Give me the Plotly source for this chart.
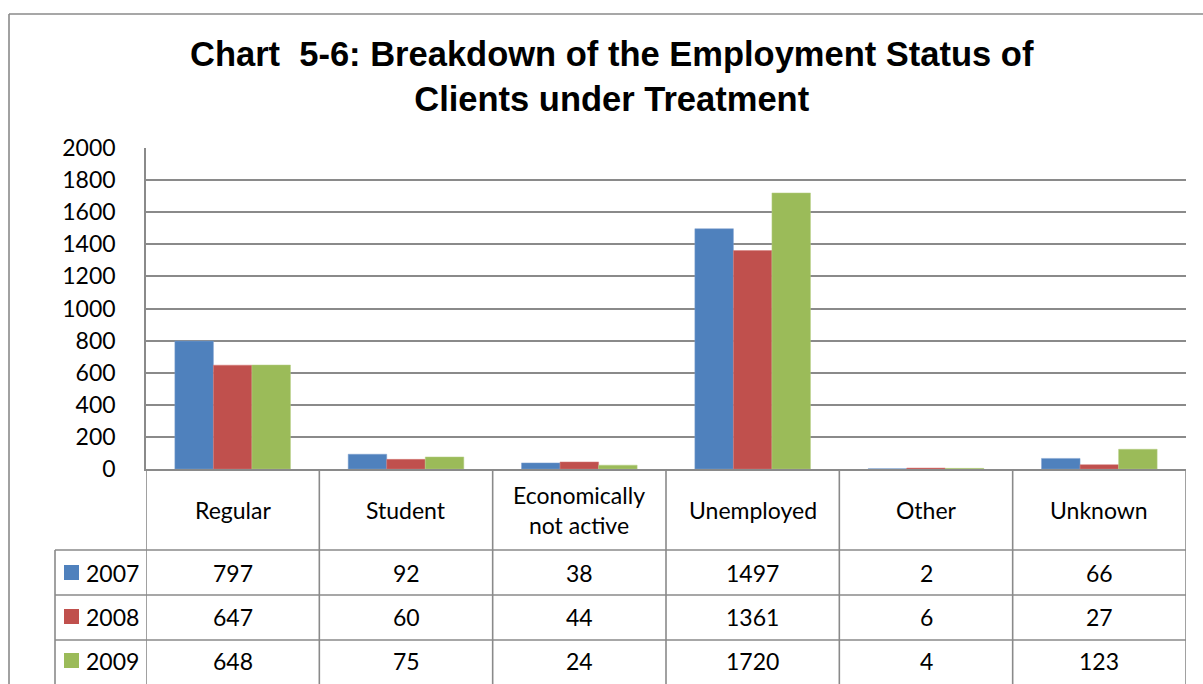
import plotly.graph_objects as go

# Employment status of clients under treatment, by year
categories = ["Regular", "Student", "Economically<br>not active", "Unemployed", "Other", "Unknown"]
years = ["2007", "2008", "2009"]
values_2007 = [797, 92, 38, 1497, 2, 66]
values_2008 = [647, 60, 44, 1361, 6, 27]
values_2009 = [648, 75, 24, 1720, 4, 123]
y_ticks = [0, 200, 400, 600, 800, 1000, 1200, 1400, 1600, 1800, 2000]

series = [values_2007, values_2008, values_2009]
colors = ["#4F81BD", "#C0504D", "#9BBB59"]
edge_colors = ["#7EA1CF", "#D47B79", "#B6CE86"]

W, H = 1203, 684
GRID = "#8A8A8A"
CAL = "Lato, 'Open Sans', sans-serif"


def px(x):
    return x / W


def py(y):
    return 1 - y / H


fig = go.Figure()
idx = list(range(len(categories)))
for yr, vals, c, ec in zip(years, series, colors, edge_colors):
    fig.add_trace(go.Bar(
        x=idx, y=vals, name=yr,
        marker=dict(color=c, line=dict(color=ec, width=0.5)),
        showlegend=False,
    ))

# plot area in pixels
left, right, top, zero = 146, 1186, 148, 469
row_lines = [550, 595, 640]
row_centers = [573, 617, 661]
legend_left = 55

shapes = []
line = dict(color=GRID, width=1.6)

# outer chart frame
shapes.append(dict(type="line", xref="paper", yref="paper",
                   x0=px(9), y0=py(14), x1=1, y1=py(14), line=line))
shapes.append(dict(type="line", xref="paper", yref="paper",
                   x0=px(9), y0=py(14), x1=px(9), y1=0, line=line))

# data table: column separators
for i in range(len(categories) + 1):
    shapes.append(dict(type="line", xref="x", yref="paper",
                       x0=i - 0.5, x1=i - 0.5, y0=py(zero), y1=0, line=line))
# legend column left edge
shapes.append(dict(type="line", xref="paper", yref="paper",
                   x0=px(legend_left), x1=px(legend_left), y0=py(row_lines[0]), y1=0, line=line))
# row separators
for r in row_lines:
    shapes.append(dict(type="line", xref="paper", yref="paper",
                       x0=px(legend_left), x1=px(right), y0=py(r), y1=py(r), line=line))

annotations = []
# category header row
for i, cat in enumerate(categories):
    annotations.append(dict(x=i, y=py((zero + row_lines[0]) / 2), xref="x", yref="paper",
                            text=cat, showarrow=False, xanchor="center", yanchor="middle",
                            font=dict(family=CAL, size=23, color="black")))
# value rows with legend keys
for yr, vals, c, yc in zip(years, series, colors, row_centers):
    for i, v in enumerate(vals):
        annotations.append(dict(x=i, y=py(yc), xref="x", yref="paper",
                                text=str(v), showarrow=False, xanchor="center", yanchor="middle",
                                font=dict(family=CAL, size=23, color="black")))
    shapes.append(dict(type="rect", xref="paper", yref="paper",
                       x0=px(64), x1=px(79), y0=py(yc - 8), y1=py(yc + 7),
                       fillcolor=c, line=dict(width=0)))
    annotations.append(dict(x=px(84), y=py(yc), xref="paper", yref="paper",
                            text=yr, showarrow=False, xanchor="left", yanchor="middle",
                            font=dict(family=CAL, size=23, color="black")))

# title
annotations.append(dict(x=px(612), y=py(77), xref="paper", yref="paper",
                        text="<b>Chart  5-6: Breakdown of the Employment Status of<br>Clients under Treatment</b>",
                        showarrow=False, xanchor="center", yanchor="middle",
                        font=dict(family="Liberation Sans, Arial, sans-serif", size=34.5, color="black")))

fig.update_layout(
    width=W, height=H,
    margin=dict(l=0, r=0, t=0, b=0, pad=0, autoexpand=False),
    paper_bgcolor="white", plot_bgcolor="white",
    barmode="group", bargap=0.333, bargroupgap=0,
    shapes=shapes, annotations=annotations,
    xaxis=dict(domain=[px(left), px(right)], range=[-0.5, len(categories) - 0.5],
               showticklabels=False, showgrid=False, zeroline=False, automargin=False,
               showline=True, linecolor=GRID, linewidth=1.6, ticks=""),
    yaxis=dict(domain=[py(zero), py(top)], range=[0, 2000], tickvals=y_ticks,
               showgrid=True, gridcolor=GRID, gridwidth=1.6, zeroline=False, automargin=False,
               showline=True, linecolor=GRID, linewidth=1.6, ticks="",
               ticklabelstandoff=24,
               tickfont=dict(family=CAL, size=23, color="black")),
)

fig.write_html("out.html")
